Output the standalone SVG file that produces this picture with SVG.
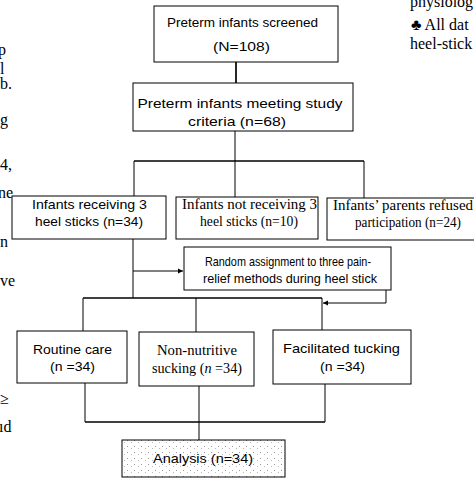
<svg xmlns="http://www.w3.org/2000/svg" width="474" height="479" viewBox="0 0 474 479">
<defs>
<style>
.box{fill:#fff;stroke:#000;stroke-width:1}
.s{font-family:"Liberation Sans",Arial,sans-serif;font-size:13.5px;fill:#000;text-anchor:middle}
.sn{font-family:"Liberation Sans",Arial,sans-serif;font-size:13px;fill:#000;text-anchor:middle}
.t{font-family:"Liberation Serif","Times New Roman",serif;font-size:14.5px;fill:#000;text-anchor:middle}
.m{font-family:"Liberation Serif","Times New Roman",serif;font-size:16px;fill:#000}
.ln{fill:none;stroke:#000;stroke-width:1}
.thick{fill:none;stroke:#000;stroke-width:1.7}
</style>
<marker id="ah" markerWidth="6" markerHeight="6" refX="5" refY="3" orient="auto" markerUnits="userSpaceOnUse">
<path d="M0,0.5 L5,3 L0,5.5 Z" fill="#000"/>
</marker>
<pattern id="dots" width="7" height="6" patternUnits="userSpaceOnUse">
<rect width="7" height="6" fill="#fff"/>
<rect x="1" y="2" width="1" height="1" fill="#999"/>
<rect x="5" y="4" width="1" height="1" fill="#bbb"/>
</pattern>
</defs>
<rect width="474" height="479" fill="#fff"/>
<g id="margin-text">
<text class="m" x="410" y="7">physiolog</text>
<text class="m" x="411" y="30">♣ All dat</text>
<text class="m" x="410" y="49">heel-stick</text>
<text class="m" x="-2" y="55">p</text>
<text class="m" x="0" y="74">l</text>
<text class="m" x="0" y="89">b.</text>
<text class="m" x="0" y="125">g</text>
<text class="m" x="0" y="170">4,</text>
<text class="m" x="-2" y="198">ne</text>
<text class="m" x="0" y="247">n</text>
<text class="m" x="0" y="286">ve</text>
<text class="m" x="0" y="404">≥</text>
<text class="m" x="-1" y="432">ıd</text>
</g>
<g id="connectors">
<line class="thick" x1="236" y1="62" x2="236" y2="83"/>
<line class="ln" x1="235" y1="131" x2="235" y2="161"/>
<line class="thick" x1="134" y1="161" x2="364" y2="161"/>
<line class="ln" x1="134" y1="161" x2="134" y2="196"/>
<line class="ln" x1="235" y1="161" x2="235" y2="197"/>
<line class="ln" x1="364" y1="161" x2="364" y2="198"/>
<line class="ln" x1="133" y1="239" x2="133" y2="298"/>
<line class="ln" x1="133" y1="271" x2="183" y2="271" marker-end="url(#ah)"/>
<polyline class="ln" points="386,290 386,303 323,303" marker-end="url(#ah)"/>
<line class="thick" x1="83" y1="298" x2="322" y2="298"/>
<line class="ln" x1="83" y1="298" x2="83" y2="331"/>
<line class="ln" x1="196" y1="298" x2="196" y2="332"/>
<line class="ln" x1="322" y1="298" x2="322" y2="330"/>
<line class="ln" x1="85" y1="383" x2="85" y2="422"/>
<line class="ln" x1="325" y1="384" x2="325" y2="422"/>
<line class="thick" x1="85" y1="422" x2="325" y2="422"/>
<line class="ln" x1="199" y1="386" x2="199" y2="440"/>
</g>
<g id="n1"><rect class="box" x="154" y="6" width="184" height="56"/>
<text class="s" x="242.5" y="27" textLength="151" lengthAdjust="spacingAndGlyphs">Preterm infants screened</text>
<text class="s" x="241.5" y="51" textLength="57" lengthAdjust="spacingAndGlyphs">(N=108)</text></g>
<g id="n2"><rect class="box" x="133" y="83" width="220" height="48"/>
<text class="s" x="240" y="108" textLength="205" lengthAdjust="spacingAndGlyphs">Preterm infants meeting study</text>
<text class="s" x="237" y="126" textLength="98" lengthAdjust="spacingAndGlyphs">criteria (n=68)</text></g>
<g id="n3"><rect class="box" x="12" y="196" width="154" height="43"/>
<text class="s" x="89.5" y="209" textLength="115" lengthAdjust="spacingAndGlyphs">Infants receiving 3</text>
<text class="s" x="89" y="226" textLength="108" lengthAdjust="spacingAndGlyphs">heel sticks (n=34)</text></g>
<g id="n4"><rect class="box" x="176" y="197" width="142" height="42"/>
<text class="t" x="249.5" y="209" textLength="135" lengthAdjust="spacingAndGlyphs">Infants not receiving 3</text>
<text class="t" x="249" y="226" textLength="98" lengthAdjust="spacingAndGlyphs">heel sticks (n=10)</text></g>
<g id="n5"><rect class="box" x="327" y="198" width="153" height="42"/>
<text class="t" x="403" y="210" textLength="140" lengthAdjust="spacingAndGlyphs">Infants’ parents refused</text>
<text class="t" x="408" y="227" textLength="106" lengthAdjust="spacingAndGlyphs">participation (n=24)</text></g>
<g id="n6"><rect class="box" x="184" y="247" width="207" height="43"/>
<text class="sn" x="288" y="266" textLength="166" lengthAdjust="spacingAndGlyphs">Random assignment to three pain-</text>
<text class="sn" x="290" y="283" textLength="174" lengthAdjust="spacingAndGlyphs">relief methods during heel stick</text></g>
<g id="n7"><rect class="box" x="17" y="331" width="110" height="52"/>
<text class="s" x="72.5" y="354" textLength="79" lengthAdjust="spacingAndGlyphs">Routine care</text>
<text class="s" x="72.5" y="371" textLength="45" lengthAdjust="spacingAndGlyphs">(n =34)</text></g>
<g id="n8"><rect class="box" x="139" y="332" width="115" height="54"/>
<text class="t" x="197" y="355" textLength="80" lengthAdjust="spacingAndGlyphs">Non-nutritive</text>
<text class="t" x="197" y="373" textLength="90" lengthAdjust="spacingAndGlyphs">sucking (<tspan font-style="italic">n</tspan> =34)</text></g>
<g id="n9"><rect class="box" x="273" y="330" width="138" height="54"/>
<text class="s" x="341.5" y="353" textLength="117" lengthAdjust="spacingAndGlyphs">Facilitated tucking</text>
<text class="s" x="342.5" y="371" textLength="45" lengthAdjust="spacingAndGlyphs">(n =34)</text></g>
<g id="n10"><rect class="box" x="122" y="440" width="163" height="37" style="fill:url(#dots)"/>
<text class="s" x="203" y="463" textLength="100" lengthAdjust="spacingAndGlyphs">Analysis (n=34)</text></g>
</svg>
